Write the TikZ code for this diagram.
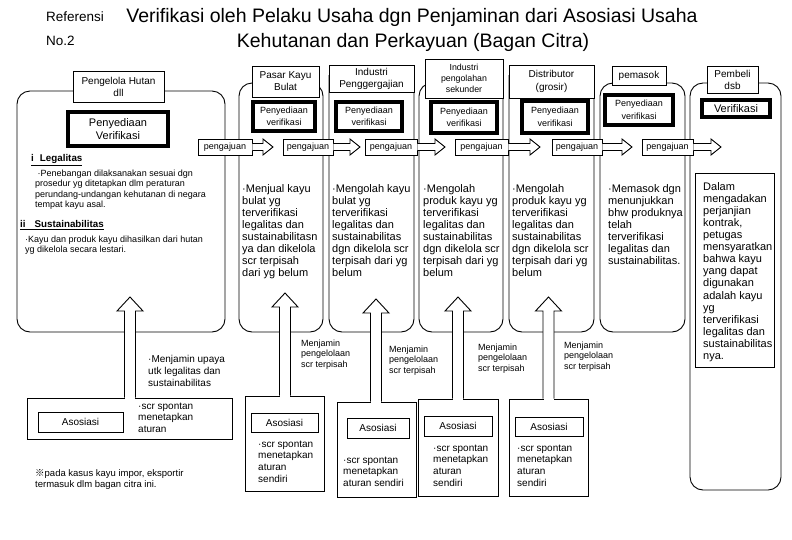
\documentclass[tikz,border=0pt]{standalone}
\usepackage{fontspec}
\setmainfont{Liberation Sans}
\newfontfamily\cjkfont{Noto Sans CJK JP}
\usetikzlibrary{calc}
\newcommand\fs[2]{\fontsize{#1}{#2}\selectfont}
% horizontal block arrow from a node's east side to a tip coordinate
\newcommand\rarr[2]{%
  \draw[blk] let \p1=(#1.east), \p2=(#2) in
    (\x1,\y1+3.5pt) -- (\x2-10pt,\y1+3.5pt) -- (\x2-10pt,\y1+8pt) -- (\x2,\y1)
    -- (\x2-10pt,\y1-8pt) -- (\x2-10pt,\y1-3.5pt) -- (\x1,\y1-3.5pt);}
% vertical block arrow from a box's top to a tip coordinate
\newcommand\uarr[2]{%
  \fill[white] let \p1=(#2), \p2=(#1.north) in (\x1-5pt,\y2-1.2pt) rectangle (\x1+5pt,\y2+1pt);
  \draw[blk] let \p1=(#2), \p2=(#1.north) in
    (\x1-5.5pt,\y2) -- (\x1-5.5pt,\y1-14pt) -- (\x1-13pt,\y1-14pt) -- (\x1,\y1)
    -- (\x1+13pt,\y1-14pt) -- (\x1+5.5pt,\y1-14pt) -- (\x1+5.5pt,\y2);}
\begin{document}
\begin{tikzpicture}[x=1pt,y=-1pt,
  colb/.style={draw,line width=0.9pt,rounded corners=13pt},
  ttl/.style={draw,fill=white,line width=0.9pt,align=center,inner sep=0pt,font=\fs{10}{12}},
  vbx/.style={draw,fill=white,line width=3.8pt,align=center,inner sep=0pt,font=\fs{9}{12.5}},
  pj/.style={draw,fill=white,line width=0.9pt,inner sep=0pt,minimum height=16pt,font=\fs{9}{11}},
  blk/.style={draw,fill=white,line width=0.9pt,line join=miter},
  body/.style={anchor=north west,inner sep=0pt,align=left,font=\fs{11}{12.1}},
  small/.style={anchor=north west,inner sep=0pt,align=left,font=\fs{9}{10.5}},
  note/.style={anchor=north west,inner sep=0pt,align=left,font=\fs{9}{10.3}},
  aso/.style={anchor=north west,inner sep=0pt,align=left,font=\fs{10}{11.8}},
  obox/.style={draw,line width=0.9pt,inner sep=0pt},
  ibox/.style={draw,line width=0.9pt,inner sep=0pt,font=\fs{10}{12}},
  hd/.style={anchor=west,inner sep=0pt,font=\bfseries\fs{9.8}{12}},
]
\useasboundingbox (0,0) rectangle (792,539);

% header
\node[inner sep=0pt,font=\fs{19.5}{24}] (title1) at (412,17) {Verifikasi oleh Pelaku Usaha dgn Penjaminan dari Asosiasi Usaha};
\node[inner sep=0pt,font=\fs{19.5}{24}] (title2) at (413,42) {Kehutanan dan Perkayuan (Bagan Citra)};
\node[anchor=west,inner sep=0pt,font=\fs{13.5}{16}] (ref1) at (46,17) {Referensi};
\node[anchor=west,inner sep=0pt,font=\fs{13.5}{16}] (ref2) at (46,41) {No.2};

% columns
\draw[colb] (17,91) rectangle (225,332);
\draw[colb] (239,83) rectangle (323,332);
\draw[colb] (329,75) -- (329,332) -- (414,332) -- (414,75);
\draw[colb] (419,83) rectangle (503,332);
\draw[colb] (509,75) -- (509,332) -- (594,332) -- (594,75);
\draw[colb] (600,83) rectangle (685,332);
\draw[colb] (690,83) rectangle (781,490);

% column titles
\node[ttl,minimum width=91,minimum height=31] (t1) at (118.5,86.5) {Pengelola Hutan\\dll};
\node[ttl,minimum width=67,minimum height=31] (t2) at (285.5,81.5) {Pasar Kayu\\Bulat};
\node[ttl,minimum width=85,minimum height=27] (t3) at (371.5,78.5) {Industri\\Penggergajian};
\node[ttl,minimum width=78,minimum height=39,font=\fs{8.8}{11}] (t4) at (464,78.5) {Industri\\pengolahan\\sekunder};
\node[ttl,minimum width=85,minimum height=33,font=\fs{10}{12.7}] (t5) at (551.5,81.5) {Distributor\\(grosir)};
\node[ttl,minimum width=54,minimum height=19] (t6) at (639,75.5) {pemasok};
\node[ttl,minimum width=51,minimum height=27] (t7) at (732.5,79.5) {Pembeli\\dsb};

% verification boxes
\node[vbx,minimum width=100,minimum height=34,font=\fs{11}{13}] (v1) at (118,129) {Penyediaan\\Verifikasi};
\node[vbx,minimum width=62,minimum height=29] (v2) at (284,116.5) {Penyediaan\\verifikasi};
\node[vbx,minimum width=66,minimum height=29] (v3) at (369,116.5) {Penyediaan\\verifikasi};
\node[vbx,minimum width=66,minimum height=31] (v4) at (464,117.5) {Penyediaan\\verifikasi};
\node[vbx,minimum width=66,minimum height=32] (v5) at (555,117) {Penyediaan\\verifikasi};
\node[vbx,minimum width=68,minimum height=30] (v6) at (639,110) {Penyediaan\\verifikasi};
\node[vbx,minimum width=68,minimum height=17,font=\fs{11}{13}] (v7) at (736,108.5) {Verifikasi};

% pengajuan boxes and arrows
\node[pj,minimum width=54] (p1) at (225,147) {pengajuan};
\node[pj,minimum width=50] (p2) at (308,147) {pengajuan};
\node[pj,minimum width=52] (p3) at (391,147) {pengajuan};
\node[pj,minimum width=53] (p4) at (481.5,147) {pengajuan};
\node[pj,minimum width=50] (p5) at (577,147) {pengajuan};
\node[pj,minimum width=51] (p6) at (667.5,147) {pengajuan};
\coordinate (a1) at (273,147);
\coordinate (a2) at (360,147);
\coordinate (a3) at (445,147);
\coordinate (a4) at (540,147);
\coordinate (a5) at (632,147);
\coordinate (a6) at (721,147);
\rarr{p1}{a1}
\rarr{p2}{a2}
\rarr{p3}{a3}
\rarr{p4}{a4}
\rarr{p5}{a5}
\rarr{p6}{a6}

% column 1 text
\node[hd] (h1) at (31,160) {\underline{i\hspace{6pt}Legalitas}};
\node[small] (c1a) at (35,169.7) {\hspace*{2.5pt}·Penebangan dilaksanakan sesuai dgn\\prosedur yg ditetapkan dlm peraturan\\perundang-undangan kehutanan di negara\\tempat kayu asal.};
\node[hd] (h2) at (20,225) {\underline{ii\hspace{9pt}Sustainabilitas}};
\node[small] (c1b) at (25,235.7) {·Kayu dan produk kayu dihasilkan dari hutan\\yg dikelola secara lestari.};

% other column texts
\node[body] (c2) at (242,184) {·Menjual kayu\\bulat yg\\terverifikasi\\legalitas dan\\sustainabilitasn\\ya dan dikelola\\scr terpisah\\dari yg belum};
\node[body] (c3) at (332,184) {·Mengolah kayu\\bulat yg\\terverifikasi\\legalitas dan\\sustainabilitas\\dgn dikelola scr\\terpisah dari yg\\belum};
\node[body] (c4) at (423,184) {·Mengolah\\produk kayu yg\\terverifikasi\\legalitas dan\\sustainabilitas\\dgn dikelola scr\\terpisah dari yg\\belum};
\node[body] (c5) at (512,184) {·Mengolah\\produk kayu yg\\terverifikasi\\legalitas dan\\sustainabilitas\\dgn dikelola scr\\terpisah dari yg\\belum};
\node[body] (c6) at (608,184) {·Memasok dgn\\menunjukkan\\bhw produknya\\telah\\terverifikasi\\legalitas dan\\sustainabilitas.};
\node[obox,minimum width=79,minimum height=194] (d7) at (734.5,270) {};
\node[body] (c7) at (703,182) {Dalam\\mengadakan\\perjanjian\\kontrak,\\petugas\\mensyaratkan\\bahwa kayu\\yang dapat\\digunakan\\adalah kayu\\yg\\terverifikasi\\legalitas dan\\sustainabilitas\\nya.};

% associations
\node[obox,minimum width=205,minimum height=41] (A1) at (129.5,418.5) {};
\node[obox,minimum width=79,minimum height=95] (A2) at (284.5,443.5) {};
\node[obox,minimum width=79,minimum height=95] (A3) at (376.5,449.5) {};
\node[obox,minimum width=80,minimum height=97] (A4) at (458,447.5) {};
\node[obox,minimum width=79,minimum height=97] (A5) at (548.5,447.5) {};
\node[ibox,minimum width=85,minimum height=20] (I1) at (80.5,422) {Asosiasi};
\node[ibox,minimum width=67,minimum height=19] (I2) at (284.5,422.5) {Asosiasi};
\node[ibox,minimum width=62,minimum height=20] (I3) at (378,428) {Asosiasi};
\node[ibox,minimum width=68,minimum height=20] (I4) at (458,426) {Asosiasi};
\node[ibox,minimum width=68,minimum height=19] (I5) at (549,426.5) {Asosiasi};
\node[aso] (s1) at (138,402.4) {·scr spontan\\menetapkan\\aturan};
\node[aso] (s2) at (258,440.4) {·scr spontan\\menetapkan\\aturan\\sendiri};
\node[aso] (s3) at (343,456.4) {·scr spontan\\menetapkan\\aturan sendiri};
\node[aso] (s4) at (433,444.4) {·scr spontan\\menetapkan\\aturan\\sendiri};
\node[aso] (s5) at (517,444.4) {·scr spontan\\menetapkan\\aturan\\sendiri};

% up arrows
\coordinate (u1) at (130,297);
\coordinate (u2) at (285,293);
\coordinate (u3) at (376,299);
\coordinate (u4) at (458,297);
\coordinate (u5) at (548.5,297);
\uarr{A1}{u1}
\uarr{A2}{u2}
\uarr{A3}{u3}
\uarr{A4}{u4}
\uarr{A5}{u5}

% guarantee texts
\node[aso] (m1) at (148,355.4) {·Menjamin upaya\\utk legalitas dan\\sustainabilitas};
\node[note] (m2) at (301,339.7) {Menjamin\\pengelolaan\\scr terpisah};
\node[note] (m3) at (389,345.7) {Menjamin\\pengelolaan\\scr terpisah};
\node[note] (m4) at (478,343.7) {Menjamin\\pengelolaan\\scr terpisah};
\node[note] (m5) at (564,341.7) {Menjamin\\pengelolaan\\scr terpisah};

% footnote
\node[anchor=north west,inner sep=0pt,align=left,font=\fs{9.5}{11}] (fn) at (35,469.5) {{\cjkfont ※}pada kasus kayu impor, eksportir\\termasuk dlm bagan citra ini.};
\end{tikzpicture}
\end{document}
